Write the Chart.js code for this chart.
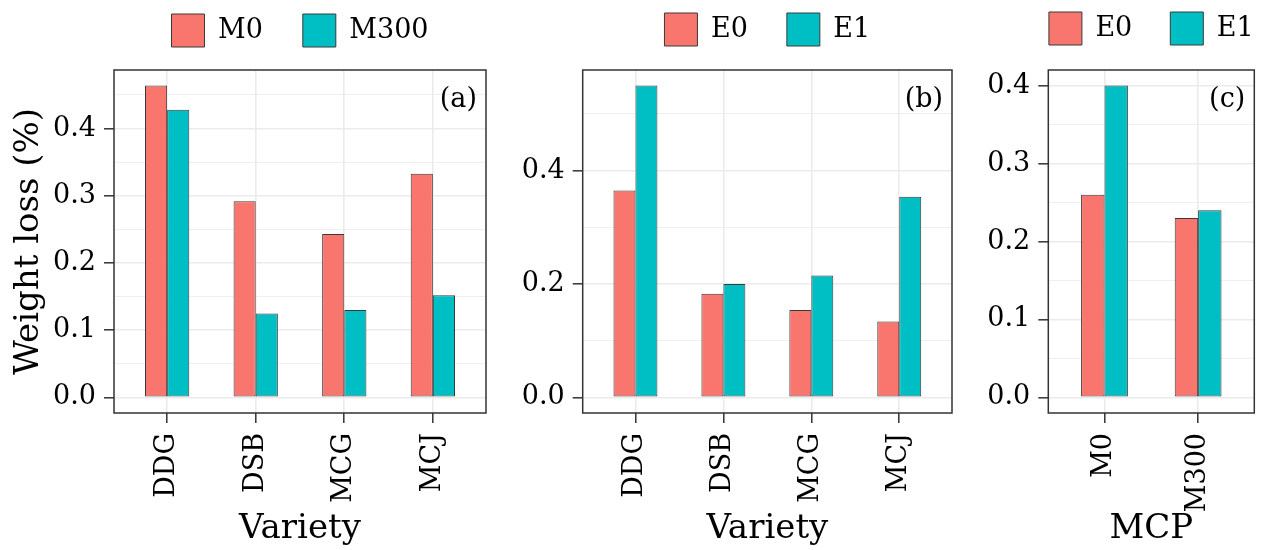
<!DOCTYPE html>
<html>
<head>
<meta charset="utf-8">
<script src="https://cdn.jsdelivr.net/npm/chart.js@4.4.0/dist/chart.umd.min.js"></script>
<style>
  body { margin: 0; background: #fff; }
  canvas { position: absolute; top: 0; }
</style>
</head>
<body>
<canvas id="chartA" width="500" height="550" style="left:0px"></canvas>
<canvas id="chartB" width="460" height="550" style="left:500px"></canvas>
<canvas id="chartC" width="301" height="550" style="left:960px"></canvas>
<script>
'use strict';

// categories
const varieties = ['DDG', 'DSB', 'MCG', 'MCJ'];
const mcpLevels = ['M0', 'M300'];

// (a) weight loss by variety, MCP treatment
const lossM0 = [0.464, 0.292, 0.243, 0.333];
const lossM300 = [0.428, 0.125, 0.130, 0.152];
// (b) weight loss by variety, ethylene treatment
const lossE0 = [0.365, 0.183, 0.154, 0.134];
const lossE1 = [0.550, 0.200, 0.215, 0.354];
// (c) weight loss by MCP level, ethylene treatment
const mcpE0 = [0.260, 0.230];
const mcpE1 = [0.400, 0.240];

// y ticks (labelled) and minor grid lines
const yTicksA = [0, 0.1, 0.2, 0.3, 0.4];
const yMinorA = [0.05, 0.15, 0.25, 0.35, 0.45];
const yTicksB = [0, 0.2, 0.4];
const yMinorB = [0.1, 0.3, 0.5];
const yTicksC = [0, 0.1, 0.2, 0.3, 0.4];
const yMinorC = [0.05, 0.15, 0.25, 0.35];

Chart.defaults.font.family = '"DejaVu Serif", serif';
Chart.defaults.color = '#000';

const FRAME = '#333333';
const GRID = '#ebebeb';

// full box round the panel + the (a)/(b)/(c) tag,
// and a fixed legend height / wider legend box so the row never wraps
const panelFrame = {
    id: 'panelFrame',
    beforeLayout(chart) {
        const lg = chart.legend;
        if (!lg || lg._fixedFit) return;
        const origFit = lg.fit.bind(lg);
        lg.fit = function () {
            this.maxWidth = 2000;
            origFit();
            this.height = 96;
        };
        lg._fixedFit = true;
    },
    afterLayout(chart) {
        const lg = chart.legend;
        if (!lg) return;
        lg.left -= 100;
        lg.right += 100;
        lg.width += 200;
    },
    afterDatasetsDraw(chart, args, opts) {
        const ctx = chart.ctx;
        const a = chart.chartArea;
        ctx.save();
        ctx.strokeStyle = FRAME;
        ctx.lineWidth = 1.5;
        ctx.strokeRect(a.left, a.top, a.right - a.left, a.bottom - a.top);
        ctx.font = '27px "DejaVu Serif"';
        ctx.fillStyle = '#000';
        ctx.textAlign = 'right';
        ctx.textBaseline = 'middle';
        ctx.fillText(opts.tag, a.right - 9, a.top + 30);
        ctx.restore();
    }
};

function renderPanel(canvasId, p) {
    const points = vals => vals.map((v, i) => ({x: i + 1, y: v}));
    const isMajor = v => p.yTicks.some(t => Math.abs(t - v) < 1e-9);
    const yAll = p.yTicks.concat(p.yMinor).sort((a, b) => a - b);

    const bar = (label, vals, color) => ({
        label: label,
        data: points(vals),
        backgroundColor: color,
        borderColor: '#3a3a3a',
        borderWidth: 1,
        borderSkipped: false,
        categoryPercentage: 0.5,
        barPercentage: 1.0
    });

    new Chart(document.getElementById(canvasId), {
        type: 'bar',
        data: {
            datasets: [
                bar(p.legend[0], p.series[0], '#F8766D'),
                bar(p.legend[1], p.series[1], '#00BFC4')
            ]
        },
        options: {
            responsive: false,
            animation: false,
            layout: {padding: {top: -26, right: p.padRight, bottom: 0, left: 0}},
            plugins: {
                tooltip: {enabled: false},
                panelFrame: {tag: p.tag},
                legend: {
                    position: 'top',
                    fullSize: false,
                    labels: {
                        boxWidth: 33,
                        boxHeight: 33,
                        padding: p.legendGap,
                        font: {size: 27}
                    }
                }
            },
            scales: {
                x: {
                    type: 'linear',
                    min: 0.4,
                    max: p.cats.length + 0.6,
                    offset: false,
                    afterBuildTicks: axis => { axis.ticks = p.cats.map((c, i) => ({value: i + 1})); },
                    afterFit: axis => { axis.height = 137; },
                    border: {display: false},
                    grid: {
                        offset: false,
                        color: GRID,
                        lineWidth: 1.6,
                        tickLength: 10,
                        tickColor: FRAME,
                        tickWidth: 1.5
                    },
                    ticks: {
                        autoSkip: false,
                        minRotation: 90,
                        maxRotation: 90,
                        padding: 10,
                        font: {size: 27},
                        callback: v => p.cats[Math.round(v) - 1]
                    },
                    title: {
                        display: true,
                        text: p.xTitle,
                        font: {size: 34},
                        padding: {top: 0, bottom: 0}
                    }
                },
                y: {
                    min: p.yMin,
                    max: p.yMax,
                    afterBuildTicks: axis => { axis.ticks = yAll.map(v => ({value: v})); },
                    afterFit: axis => { axis.width = p.yWidth; },
                    border: {display: false},
                    grid: {
                        color: GRID,
                        lineWidth: ctx => isMajor(ctx.tick.value) ? 1.6 : 0.8,
                        tickLength: 10,
                        tickColor: ctx => isMajor(ctx.tick.value) ? FRAME : 'rgba(0,0,0,0)',
                        tickWidth: 1.5
                    },
                    ticks: {
                        autoSkip: false,
                        padding: 8,
                        font: {size: 27},
                        callback: v => isMajor(v) ? v.toFixed(1) : ''
                    },
                    title: {
                        display: !!p.yTitle,
                        text: p.yTitle || '',
                        font: {size: 34},
                        padding: {top: 9, bottom: 0}
                    }
                }
            }
        },
        plugins: [panelFrame]
    });
}

renderPanel('chartA', {
    tag: '(a)', cats: varieties, legend: ['M0', 'M300'], series: [lossM0, lossM300],
    yTicks: yTicksA, yMinor: yMinorA, yMin: -0.0232, yMax: 0.4872,
    xTitle: 'Variety', yTitle: 'Weight loss (%)', yWidth: 114, padRight: 14, legendGap: 40
});
renderPanel('chartB', {
    tag: '(b)', cats: varieties, legend: ['E0', 'E1'], series: [lossE0, lossE1],
    yTicks: yTicksB, yMinor: yMinorB, yMin: -0.0275, yMax: 0.5775,
    xTitle: 'Variety', yWidth: 82.7, padRight: 8, legendGap: 39
});
renderPanel('chartC', {
    tag: '(c)', cats: mcpLevels, legend: ['E0', 'E1'], series: [mcpE0, mcpE1],
    yTicks: yTicksC, yMinor: yMinorC, yMin: -0.02, yMax: 0.42,
    xTitle: 'MCP', yWidth: 88.3, padRight: 6.7, legendGap: 38
});
</script>
</body>
</html>
